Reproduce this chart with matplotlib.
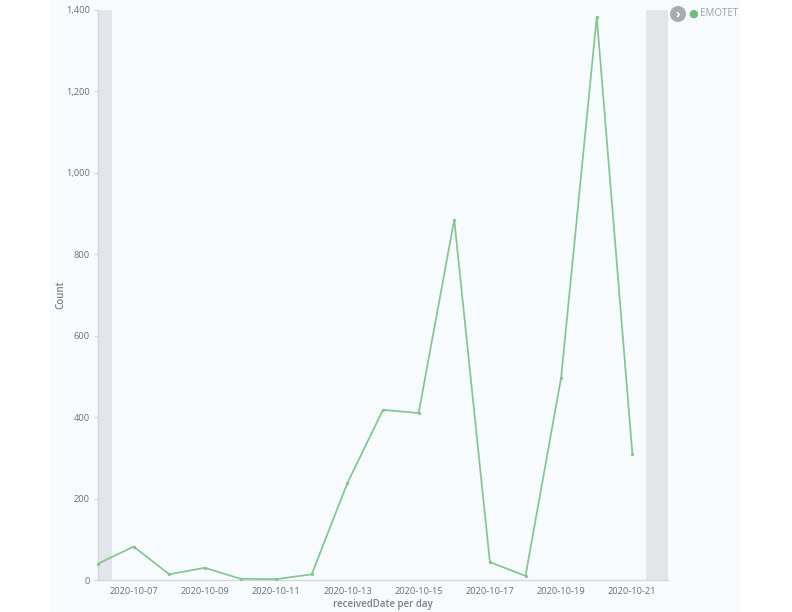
import matplotlib
matplotlib.use("Agg")
import matplotlib.pyplot as plt
import matplotlib.dates as mdates
from datetime import datetime, timedelta

# daily counts
dates = [datetime(2020, 10, 6) + timedelta(days=i) for i in range(16)]
counts = [40, 82, 14, 30, 3, 2, 14, 238, 418, 410, 885, 44, 10, 497, 1383, 310]
series_name = "EMOTET"
tick_dates = [datetime(2020, 10, d) for d in (7, 9, 11, 13, 15, 17, 19, 21)]
y_ticks = [0, 200, 400, 600, 800, 1000, 1200, 1400]

plt.rcParams['font.family'] = ['Open Sans', 'DejaVu Sans']

fig = plt.figure(figsize=(7.92, 6.12), dpi=100)
fig.patch.set_facecolor('white')

# light panel behind the chart
bg = fig.add_axes([50 / 792, 0, 690 / 792, 1], zorder=-1)
bg.set_facecolor('#f8fbfd')
bg.set_axis_off()
bg.add_patch(plt.Rectangle((0, 0), 1, 1, transform=bg.transAxes,
                           facecolor='#f8fbfd', edgecolor='none'))

ax = fig.add_axes([98 / 792, 1 - 580 / 612, 570 / 792, 570 / 612], zorder=1)
ax.set_facecolor('#f8fbfd')

x0 = datetime(2020, 10, 6)
x1 = datetime(2020, 10, 22)
ax.set_xlim(x0, x1)
ax.set_ylim(0, 1400)

# partial-bucket shading at both ends
ax.axvspan(x0, x0 + timedelta(hours=9.5), color='#e2e5e9', lw=0, zorder=1)
ax.axvspan(datetime(2020, 10, 21, 9), x1, color='#e2e5e9', lw=0, zorder=1)

ax.plot(dates, counts, color='#84c590', lw=1.25, marker='o', markersize=1.4,
        zorder=3, clip_on=False)

ax.set_xticks(tick_dates)
ax.xaxis.set_major_formatter(mdates.DateFormatter('%Y-%m-%d'))
ax.set_yticks(y_ticks)
ax.set_yticklabels([f"{v:,}" for v in y_ticks])

for s in ('top', 'right'):
    ax.spines[s].set_visible(False)
for s in ('left', 'bottom'):
    ax.spines[s].set_color('#d3d8df')
    ax.spines[s].set_linewidth(1.0)

ax.tick_params(axis='both', colors='#d3d8df', labelcolor='#69707d',
               labelsize=6.7, length=3, width=0.8)
ax.tick_params(axis='x', length=0, pad=5)
ax.tick_params(axis='y', pad=3)

ax.set_xlabel('receivedDate per day', fontsize=7, color='#7a808a',
              fontweight='semibold', labelpad=2)
ax.set_ylabel('Count', fontsize=7, color='#7a808a', fontweight='semibold')
ax.yaxis.set_label_coords(-32 / 570, 0.5)

# legend on the right
fig.text(678 / 792, 1 - 14 / 612, '\u203a', fontsize=9, color='white',
         ha='center', va='center', fontweight='bold', zorder=5,
         bbox=dict(boxstyle='circle,pad=0.12', fc='#a8acb2', ec='none'))
fig.text(693 / 792, 1 - 14 / 612, '\u25cf', fontsize=8, color='#6dbd7c',
         ha='center', va='center', family=['DejaVu Sans'])
fig.text(700 / 792, 1 - 14 / 612, series_name, fontsize=7, color='#98a0aa',
         ha='left', va='center')

fig.savefig('out.png', dpi=100, facecolor=fig.get_facecolor())
